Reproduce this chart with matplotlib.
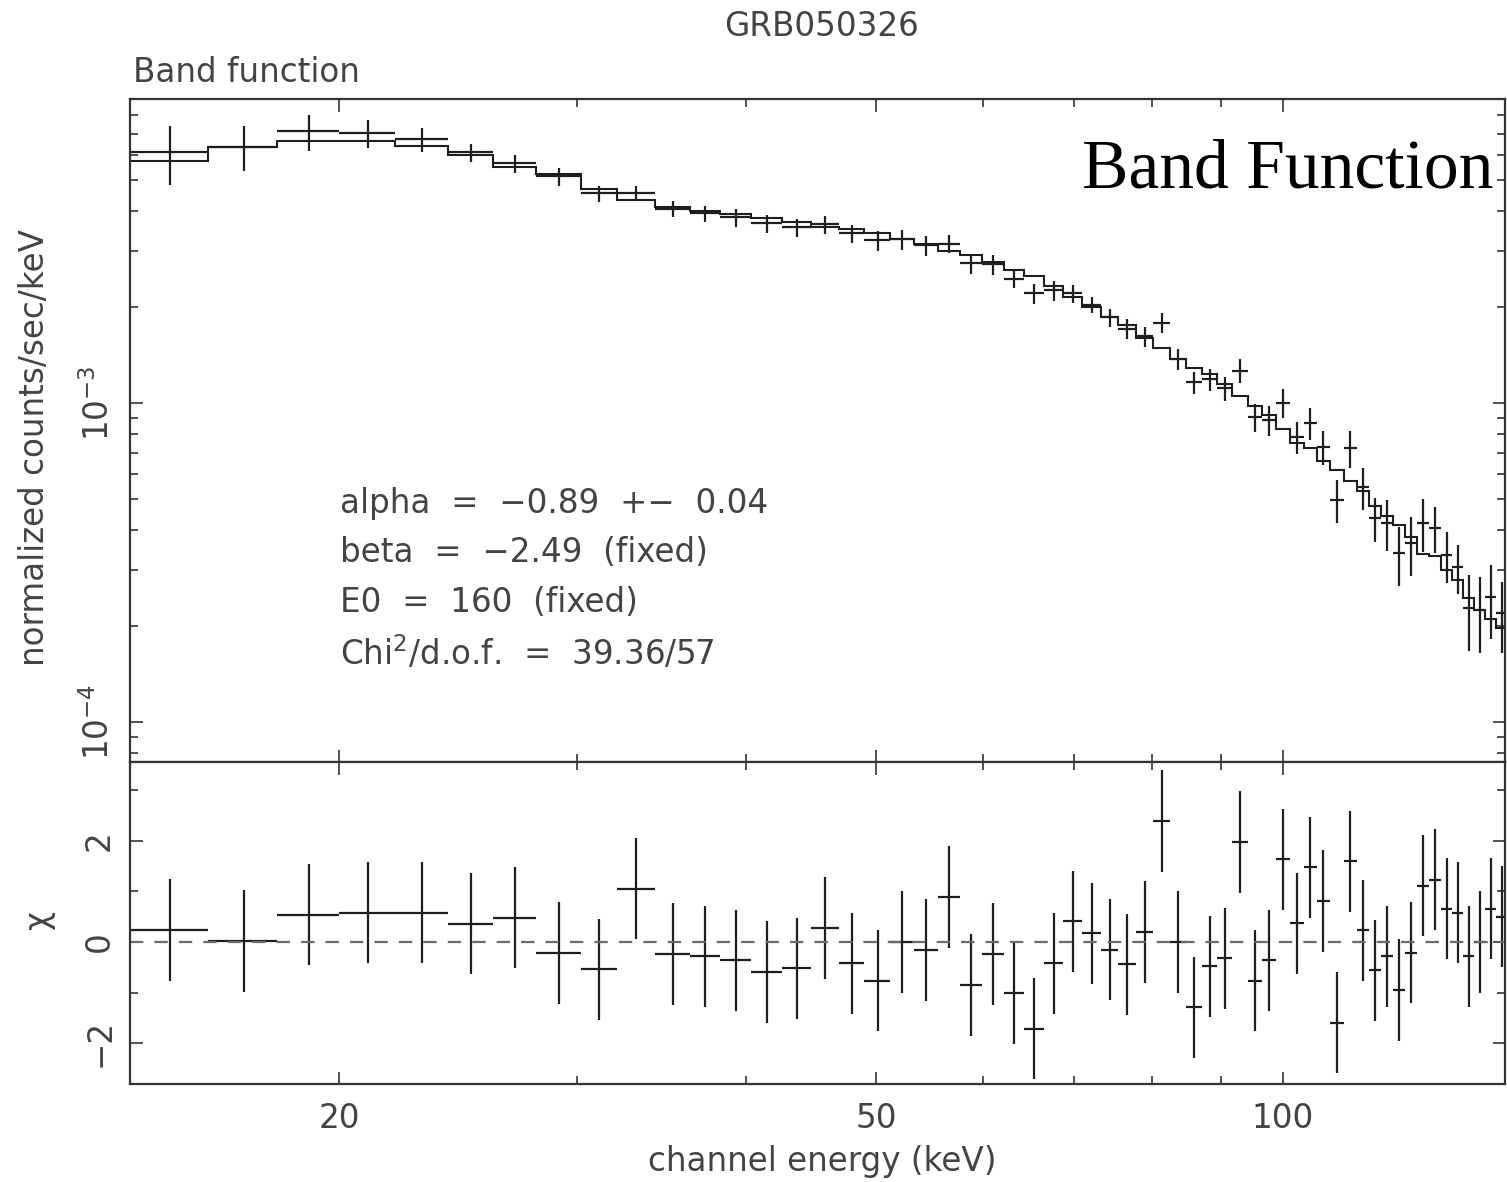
import numpy as np
import matplotlib
matplotlib.use("Agg")
import matplotlib.pyplot as plt
from matplotlib.ticker import FixedLocator, FixedFormatter, NullFormatter, LogLocator

# ---------------- data ----------------
# channel bin edges (keV)
edges = [14.0, 16.0, 18.0, 20.0, 22.0, 24.1, 26.0, 28.0, 30.2, 32.1, 34.3, 36.4,
         38.3, 40.4, 42.6, 44.7, 46.9, 49.0, 51.2, 53.3, 55.5, 57.7, 59.9, 62.2,
         64.3, 66.5, 68.8, 71.0, 73.4, 75.5, 77.9, 80.2, 82.5, 84.8, 87.2, 89.4,
         91.7, 94.3, 96.5, 98.9, 101.3, 103.7, 106.0, 108.4, 111.0, 113.5, 115.9,
         118.3, 120.7, 123.2, 125.7, 128.4, 131.0, 133.5, 136.0, 138.6, 141.2,
         143.9, 146.6]

# normalized counts/sec/keV (in units of 1e-3)
rate_1e3 = [6.12, 6.37, 7.12, 7.02, 6.72, 6.12, 5.65, 5.15, 4.55, 4.57, 4.06, 3.94,
            3.83, 3.67, 3.56, 3.64, 3.41, 3.24, 3.27, 3.13, 3.17, 2.75, 2.73, 2.45,
            2.21, 2.26, 2.21, 2.03, 1.86, 1.71, 1.62, 1.79, 1.38, 1.164, 1.19, 1.114,
            1.265, 0.904, 0.885, 1.003, 0.782, 0.869, 0.728, 0.497, 0.723, 0.545,
            0.436, 0.4205, 0.339, 0.364, 0.4205, 0.4056, 0.334, 0.306, 0.2277,
            0.2244, 0.2465, 0.2197]

rate_err_1e3 = [1.29, 1.01, 0.925, 0.71, 0.58, 0.40, 0.367, 0.335, 0.263, 0.23, 0.234,
                0.228, 0.249, 0.238, 0.231, 0.236, 0.222, 0.234, 0.236, 0.226, 0.206,
                0.199, 0.197, 0.159, 0.16, 0.163, 0.144, 0.117, 0.121, 0.123, 0.117,
                0.127, 0.105, 0.092, 0.0945, 0.0965, 0.108, 0.0914, 0.0958, 0.107,
                0.0903, 0.0993, 0.0894, 0.0766, 0.097, 0.0827, 0.0693, 0.0759, 0.071,
                0.0762, 0.079, 0.0674, 0.0603, 0.053, 0.0608, 0.06, 0.064, 0.0555]

# Band-function model folded through the response (units of 1e-3)
model_1e3 = [5.74, 6.35, 6.63, 6.63, 6.39, 5.99, 5.49, 5.22, 4.69, 4.33, 4.12, 4.00,
             3.91, 3.80, 3.69, 3.56, 3.51, 3.41, 3.27, 3.17, 3.00, 2.91, 2.77, 2.61,
             2.50, 2.33, 2.15, 2.01, 1.87, 1.76, 1.60, 1.49, 1.38, 1.287, 1.233,
             1.147, 1.052, 0.979, 0.917, 0.829, 0.749, 0.723, 0.658, 0.619, 0.569,
             0.530, 0.4755, 0.442, 0.4145, 0.380, 0.338, 0.3314, 0.2996, 0.279,
             0.2448, 0.2244, 0.2104, 0.197]

# residuals (chi)
chi = [0.24, 0.02, 0.54, 0.58, 0.58, 0.36, 0.48, -0.22, -0.54, 1.05, -0.24, -0.28,
       -0.36, -0.59, -0.52, 0.28, -0.42, -0.76, 0.0, -0.16, 0.89, -0.85, -0.24, -1.01,
       -1.71, -0.42, 0.41, 0.17, -0.15, -0.44, 0.20, 2.39, 0.0, -1.29, -0.48, -0.32,
       1.97, -0.76, -0.36, 1.63, 0.37, 1.47, 0.81, -1.59, 1.59, 0.23, -0.56, -0.28,
       -0.95, -0.21, 1.11, 1.23, 0.66, 0.58, -0.28, 0.0, 0.66, 0.5]

x_major = [20, 50, 100]
x_major_labels = ["20", "50", "100"]
x_minor = [30, 40, 60, 70, 80, 90]
y_major = [1e-4, 1e-3]
y_major_labels = [r"$10^{-4}$", r"$10^{-3}$"]
chi_major = [-2, 0, 2]
chi_major_labels = ["\u22122", "0", "2"]
chi_minor = [-1, 1, 3]

fit_text = ["alpha  =  \u22120.89  +\u2212  0.04",
            "beta  =  \u22122.49  (fixed)",
            "E0  =  160  (fixed)",
            r"Chi$^2$/d.o.f.  =  39.36/57"]

# ---------------- derived arrays ----------------
edges = np.array(edges)
lo, hi = edges[:-1], edges[1:]
center = 0.5 * (lo + hi)
xerr = [center - lo, hi - center]
rate = np.array(rate_1e3) * 1e-3
rate_err = np.array(rate_err_1e3) * 1e-3
model = np.array(model_1e3) * 1e-3
chi = np.array(chi)
chi_err = np.ones_like(chi)

# ---------------- figure ----------------
W, H = 1507, 1182
fig = plt.figure(figsize=(W / 100, H / 100), dpi=100)
fig.patch.set_facecolor("white")

def fx(px):
    return px / W

def fy(py):
    return 1 - py / H

TXT = "#444444"
LINE = "#1e1e1e"
SPINE = "#333333"
FS = 23.5

ax1 = fig.add_axes([fx(130), fy(762), fx(1505) - fx(130), fy(99) - fy(762)])
ax2 = fig.add_axes([fx(130), fy(1084), fx(1505) - fx(130), fy(762) - fy(1084)], sharex=ax1)

# top panel
ax1.errorbar(center, rate, xerr=xerr, yerr=rate_err, fmt="none",
             ecolor=LINE, elinewidth=1.6, capsize=0)
ax1.stairs(model, edges, color=LINE, lw=1.5, baseline=None)
ax1.set_xscale("log")
ax1.set_yscale("log")
ax1.set_xlim(14.0, 146.1)
ax1.set_ylim(7.5e-5, 9.0e-3)
ax1.yaxis.set_major_locator(FixedLocator(y_major))
ax1.yaxis.set_major_formatter(FixedFormatter(y_major_labels))
ax1.yaxis.set_minor_locator(LogLocator(base=10, subs=np.arange(2, 10)))
ax1.yaxis.set_minor_formatter(NullFormatter())

# bottom panel
ax2.errorbar(center, chi, xerr=xerr, yerr=chi_err, fmt="none",
             ecolor=LINE, elinewidth=1.6, capsize=0)
ax2.axhline(0, color="#6a6a6a", lw=1.6, ls=(0, (6, 5)))
ax2.set_ylim(-2.80, 3.55)
ax2.yaxis.set_major_locator(FixedLocator(chi_major))
ax2.yaxis.set_major_formatter(FixedFormatter(chi_major_labels))
ax2.yaxis.set_minor_locator(FixedLocator(chi_minor))
ax2.xaxis.set_major_locator(FixedLocator(x_major))
ax2.xaxis.set_major_formatter(FixedFormatter(x_major_labels))
ax2.xaxis.set_minor_locator(FixedLocator(x_minor))
ax2.xaxis.set_minor_formatter(NullFormatter())

for ax in (ax1, ax2):
    for sp in ax.spines.values():
        sp.set_linewidth(1.6)
        sp.set_color(SPINE)
    ax.tick_params(which="both", direction="in", top=True, right=True,
                   color=SPINE, width=1.2, labelcolor=TXT, labelsize=FS)
    ax.tick_params(which="major", length=9)
    ax.tick_params(which="minor", length=5.5)
    ax.tick_params(axis="y", labelrotation=90, pad=10)
    for lab in ax.get_yticklabels():
        lab.set_va("center")

ax1.tick_params(axis="x", which="both", labelbottom=False)
ax2.tick_params(axis="x", pad=13)

# ---------------- texts ----------------
fig.text(fx(822), fy(27), "GRB050326", ha="center", va="center", fontsize=FS, color=TXT)
fig.text(fx(133), fy(72), "Band function", ha="left", va="center", fontsize=FS, color=TXT)
fig.text(fx(822), fy(1161), "channel energy (keV)", ha="center", va="center",
         fontsize=FS, color=TXT)
fig.text(fx(35), fy(447), "normalized counts/sec/keV", ha="center", va="center",
         rotation=90, fontsize=FS, color=TXT)
fig.text(fx(38), fy(920), "\u03c7", ha="center", va="center", rotation=90,
         fontsize=FS, color=TXT)

for s, base in zip(fit_text, [513, 562, 612, 665]):
    fig.text(fx(340), fy(base), s, ha="left", va="baseline", fontsize=FS, color=TXT)

fig.text(fx(1082), fy(188), "Band Function", ha="left", va="baseline",
         fontsize=50, color="black", family=["Liberation Serif", "DejaVu Serif"])

fig.savefig("out.png", dpi=100, facecolor="white")
